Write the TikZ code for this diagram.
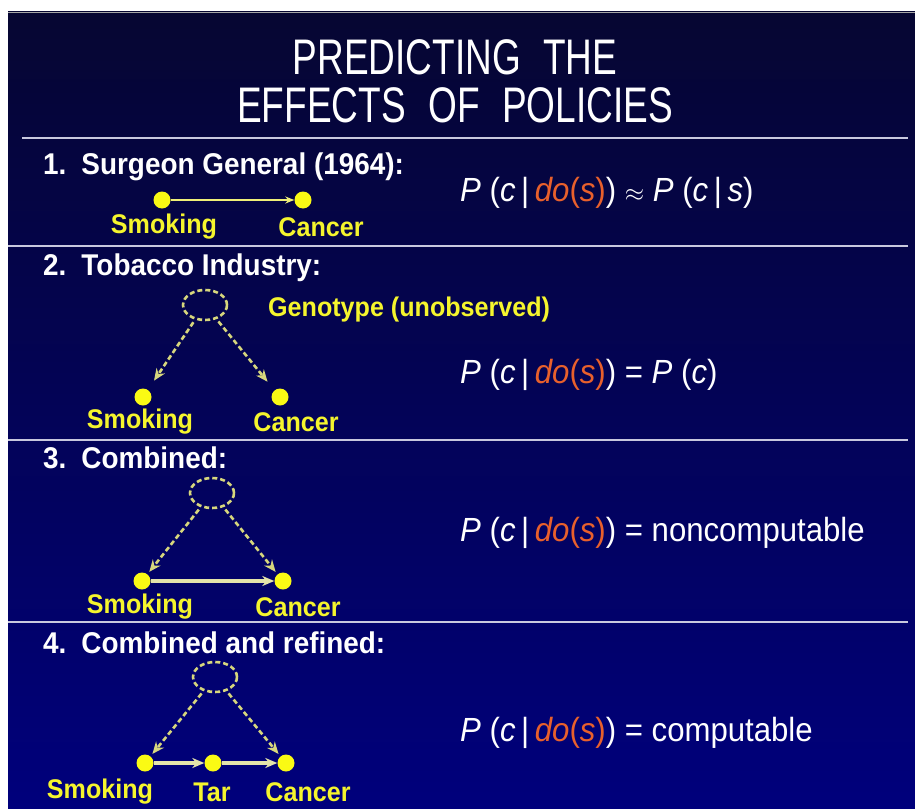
\documentclass[tikz,border=0pt]{standalone}
\usepackage{fontspec}
\setmainfont{Liberation Sans}
\newfontfamily\hdfont[FakeStretch=0.93]{Liberation Sans}
\newfontfamily\ttlfont[FakeStretch=0.74]{Liberation Sans}
\usetikzlibrary{arrows.meta,shapes.geometric}
\definecolor{navytop}{RGB}{6,6,50}
\definecolor{navybot}{RGB}{0,0,124}
\definecolor{dotyel}{RGB}{250,250,20}
\definecolor{lblyel}{RGB}{245,245,45}
\definecolor{dashyel}{RGB}{215,215,125}
\definecolor{paleyel}{RGB}{228,228,170}
\definecolor{doorange}{RGB}{232,96,44}
\definecolor{sepgray}{RGB}{200,200,222}
\newcommand{\doS}{\textcolor{doorange}{\textit{do}(\textit{s})}}
\newcommand{\Pcdo}{\textit{P} (\textit{c}\,|\,\doS)}
\begin{document}
\begin{tikzpicture}[x=1pt,y=-1pt,
  dot/.style={circle,fill=dotyel,inner sep=0pt,minimum size=17pt},
  lbl/.style={text=lblyel,font=\hdfont\bfseries\fontsize{27}{29}\selectfont,inner sep=0pt},
  hdr/.style={text=white,font=\hdfont\bfseries\fontsize{30}{32}\selectfont,anchor=west,inner sep=0pt},
  frm/.style={text=white,font=\hdfont\fontsize{33.5}{36}\selectfont,anchor=west,inner sep=0pt},
  ttl/.style={text=white,font=\ttlfont\fontsize{50}{52}\selectfont,inner sep=0pt},
  latent/.style={ellipse,draw=dashyel,dash pattern=on 5pt off 3pt,line width=2.6pt,minimum width=44pt,minimum height=30pt,inner sep=0pt},
  carr/.style={-{Stealth[length=12pt,width=10pt]},draw=dashyel,line width=2.6pt,dash pattern=on 5pt off 3pt,shorten <=3pt},
  thinarr/.style={-{Stealth[length=9pt,width=7pt]},draw={rgb,255:red,240;green,240;blue,120},line width=1.9pt},
  sarr/.style={-{Stealth[length=12pt,width=10pt]},draw=paleyel,line width=3.2pt},
  sep/.style={draw=sepgray,line width=2.4pt}]
\useasboundingbox (0,0) rectangle (915,808);
\fill[white] (0,0) rectangle (915,808);
\shade[top color=navytop,bottom color=navybot] (8,12) rectangle (915,808);
\draw[gray!70,line width=1pt] (8,12.5) -- (915,12.5);

% title
\node[ttl] (t1) at (455,57) {PREDICTING\hspace{0.45em}THE};
\node[ttl] (t2) at (455,105) {EFFECTS\hspace{0.45em}OF\hspace{0.45em}POLICIES};
\draw[sep] (22,138) -- (908,138);

% section 1
\node[hdr] (h1) at (43,167) {1.\hspace{0.5em}Surgeon General (1964):};
\node[dot] (s1) at (162,200) {};
\node[dot] (c1) at (303,200) {};
\node[lbl] (ls1) at (164,227) {Smoking};
\node[lbl] (lc1) at (321,227) {Cancer};
\draw[thinarr] (s1) -- (c1);
\node[frm] (f1) at (460,193) {\Pcdo\ $\approx$ \textit{P} (\textit{c}\,|\,\textit{s})};
\draw[sep] (8,246) -- (908,246);

% section 2
\node[hdr] (h2) at (43,268) {2.\hspace{0.5em}Tobacco Industry:};
\node[latent] (g2) at (205,305) {};
\node[lbl,anchor=west] (lg2) at (268,310) {Genotype (unobserved)};
\node[dot] (s2) at (143,397) {};
\node[dot] (c2) at (280,397) {};
\node[lbl] (ls2) at (140,422) {Smoking};
\node[lbl] (lc2) at (296,422) {Cancer};
\draw[carr,shorten >=11pt] (g2) -- (s2);
\draw[carr,shorten >=11pt] (g2) -- (c2);
\node[frm] (f2) at (460,375) {\Pcdo\ = \textit{P} (\textit{c})};
\draw[sep] (8,440) -- (908,440);

% section 3
\node[hdr] (h3) at (43,458) {3.\hspace{0.5em}Combined:};
\node[latent] (g3) at (212,493) {};
\node[dot] (s3) at (142,581) {};
\node[dot] (c3) at (283,581) {};
\node[lbl] (ls3) at (140,607) {Smoking};
\node[lbl] (lc3) at (298,607) {Cancer};
\draw[carr,shorten >=3pt] (g3) -- (s3);
\draw[carr,shorten >=3pt] (g3) -- (c3);
\draw[sarr] (s3) -- (c3);
\node[frm] (f3) at (460,533) {\Pcdo\ = noncomputable};
\draw[sep] (8,622) -- (908,622);

% section 4
\node[hdr] (h4) at (43,643) {4.\hspace{0.5em}Combined and refined:};
\node[latent] (g4) at (215,677) {};
\node[dot] (s4) at (145,763) {};
\node[dot] (t4) at (213,763) {};
\node[dot] (c4) at (286,763) {};
\node[lbl] (ls4) at (100,792) {Smoking};
\node[lbl] (lt4) at (212,792) {Tar};
\node[lbl] (lc4) at (308,792) {Cancer};
\draw[carr,shorten >=3pt] (g4) -- (s4);
\draw[carr,shorten >=3pt] (g4) -- (c4);
\draw[sarr] (s4) -- (t4);
\draw[sarr] (t4) -- (c4);
\node[frm] (f4) at (460,733) {\Pcdo\ = computable};
\end{tikzpicture}
\end{document}
